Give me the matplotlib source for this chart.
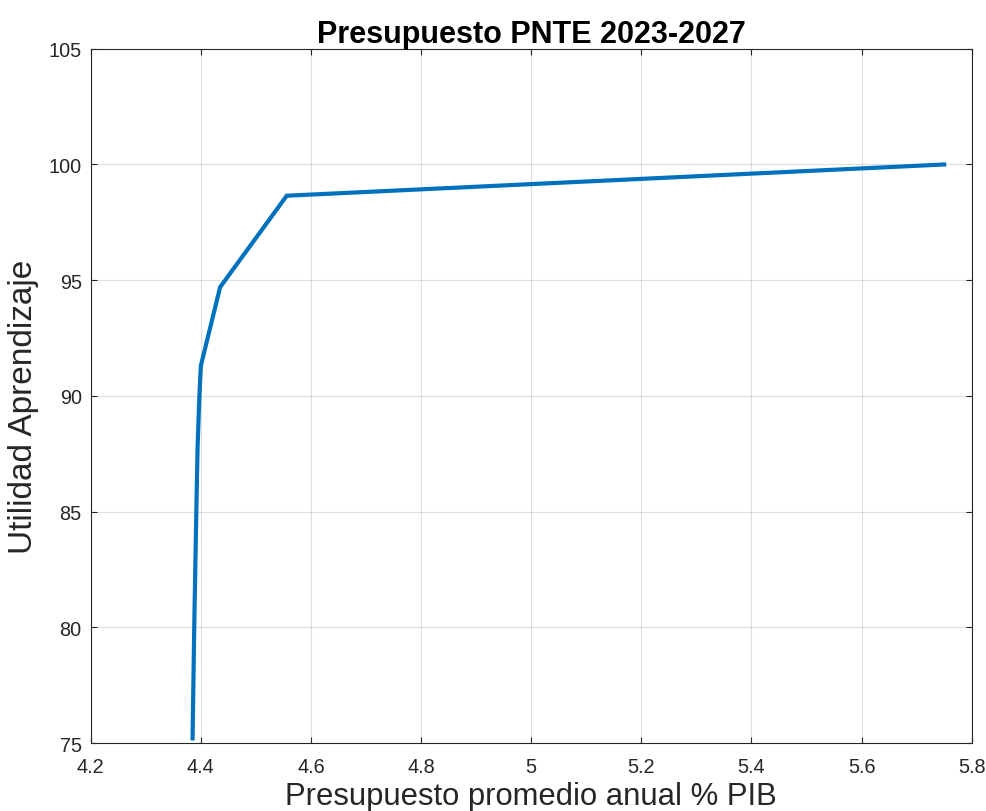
import matplotlib
matplotlib.use("Agg")
import matplotlib.pyplot as plt

# Frontera presupuesto vs utilidad
presupuesto_pib = [4.385, 4.388, 4.391, 4.394, 4.397, 4.400, 4.435, 4.556, 5.750]
utilidad_aprendizaje = [75.2, 80.0, 84.0, 87.7, 89.8, 91.3, 94.7, 98.65, 100.0]

x_ticks = [4.2, 4.4, 4.6, 4.8, 5.0, 5.2, 5.4, 5.6, 5.8]
x_tick_labels = ['4.2', '4.4', '4.6', '4.8', '5', '5.2', '5.4', '5.6', '5.8']
y_ticks = [75, 80, 85, 90, 95, 100, 105]

plt.rcParams['font.family'] = ['Liberation Sans', 'DejaVu Sans']

matlab_dark = '#262626'

fig = plt.figure(figsize=(9.86, 8.12), dpi=100)
ax = fig.add_axes([0.092, 0.0837, 0.8935, 0.855])

ax.plot(presupuesto_pib, utilidad_aprendizaje, color='#0072BD', linewidth=3.0,
        solid_joinstyle='miter', zorder=3)

ax.set_xlim(4.2, 5.8)
ax.set_ylim(75, 105)
ax.set_xticks(x_ticks)
ax.set_xticklabels(x_tick_labels)
ax.set_yticks(y_ticks)

ax.grid(True, color='#262626', alpha=0.15, linewidth=0.8)
ax.set_axisbelow(True)

ax.tick_params(axis='both', direction='in', length=4.5, width=0.8, labelsize=14.3,
               colors=matlab_dark, top=True, right=True)
ax.tick_params(axis='x', pad=10)
ax.tick_params(axis='y', pad=6.5)
for spine in ax.spines.values():
    spine.set_color(matlab_dark)
    spine.set_linewidth(0.8)

ax.set_title('Presupuesto PNTE 2023-2027', fontsize=22, fontweight='bold', pad=5)
ax.set_xlabel('Presupuesto promedio anual % PIB', fontsize=22.3, color=matlab_dark, labelpad=4)
ax.set_ylabel('Utilidad Aprendizaje', fontsize=24, color=matlab_dark, labelpad=7)
ax.yaxis.label.set_y(0.486)

fig.savefig('out.png', dpi=100)
